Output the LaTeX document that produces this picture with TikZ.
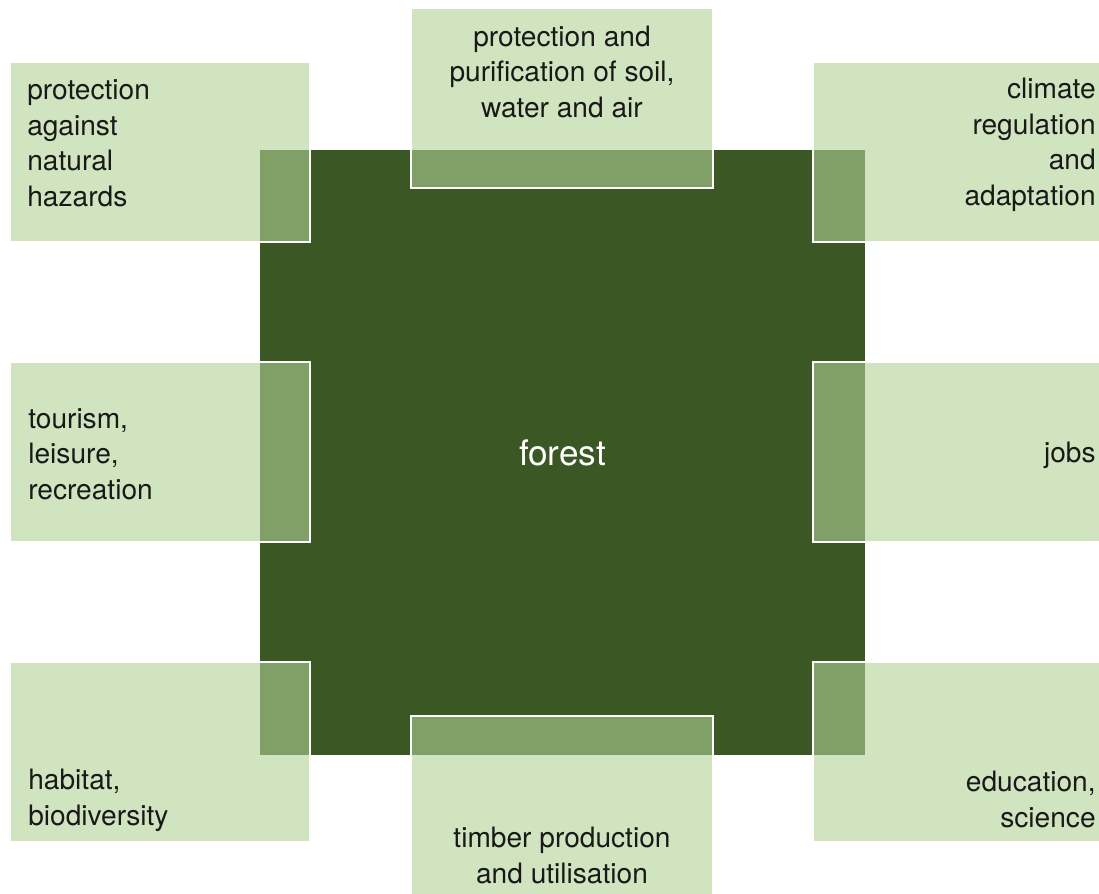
\documentclass[tikz,border=0pt]{standalone}
\usepackage{fontspec}
\setmainfont{TeX Gyre Heros}
\usetikzlibrary{positioning}
\definecolor{forestdark}{RGB}{59,87,36}
\definecolor{leafgreen}{RGB}{177,210,150}
\tikzset{
  core/.style={fill=forestdark, minimum width=12.1cm, minimum height=12.1cm, inner sep=0pt,
    text=white, font=\fontsize{20}{24}\selectfont},
  service/.style={fill=leafgreen, fill opacity=0.6, draw=white, line width=1pt,
    minimum width=6cm, minimum height=3.6cm, inner sep=0pt},
  wide/.style={minimum width=6.04cm},
  txt/.style={inner sep=0pt, text=black!90, font=\fontsize{16}{20.2}\selectfont}
}

\begin{document}
\begin{tikzpicture}[x=0.02cm, y=-0.02cm]
  \useasboundingbox (0,0) rectangle (1099,893);

  % centre
  \node[core] (forest) at (562.5,452.5) {forest};

  % boxes round the forest
  \node[service] (hazardsbox) at (160,152) {};
  \node[service, wide] (purifybox) at (562,98) {};
  \node[service] (climatebox) at (963,152) {};
  \node[service] (tourismbox) at (160,452) {};
  \node[service] (jobsbox) at (963,452) {};
  \node[service] (habitatbox) at (160,752) {};
  \node[service, wide] (timberbox) at (562,806) {};
  \node[service] (educationbox) at (963,752) {};

  % texts (anchored at the baseline of the last line)
  \node[txt, anchor=base west, align=left] (hazards) at (27,206) {protection\\against\\natural\\hazards};
  \node[txt, anchor=base, align=center] (purify) at (562,117) {protection and\\purification of soil,\\water and air};
  \node[txt, anchor=base east, align=right] (climate) at (1096,205) {climate\\regulation\\and\\adaptation};
  \node[txt, anchor=base west, align=left] (tourism) at (28,499) {tourism,\\leisure,\\recreation};
  \node[txt, anchor=base east] (jobs) at (1096,462) {jobs};
  \node[txt, anchor=base west, align=left] (habitat) at (28,825) {habitat,\\biodiversity};
  \node[txt, anchor=base, align=center] (timber) at (562,883) {timber production\\and utilisation};
  \node[txt, anchor=base east, align=right] (education) at (1096,827) {education,\\science};
\end{tikzpicture}
\end{document}
